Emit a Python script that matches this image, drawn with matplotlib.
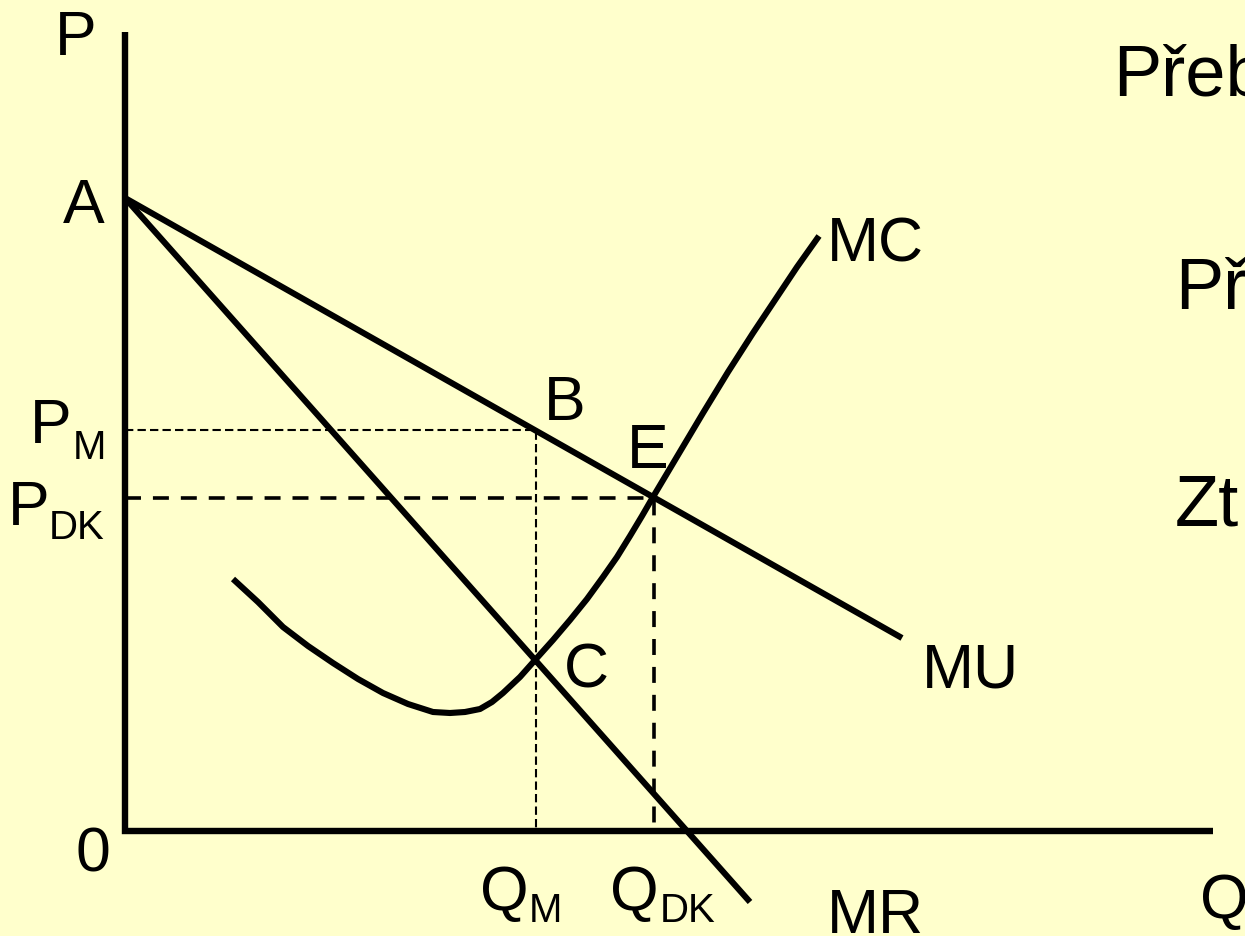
import matplotlib
matplotlib.use("Agg")
import matplotlib.pyplot as plt

# ---- data (economic coordinates: quantity Q, price P) ----
mu_q = [0, 777]
mu_p = [633, 193]
mr_q = [0, 625]
mr_p = [633, -71]
mc_q = [108, 133, 158, 183, 208, 233, 258, 283, 308, 325, 340, 355, 367, 378,
        395, 411, 428, 445, 462, 478, 492, 505, 517, 528, 553, 578, 603, 628,
        650, 672, 694]
mc_p = [252, 229, 204, 185, 168, 152, 138, 127, 119, 118, 119, 122, 129, 138,
        154, 172, 191, 211, 232, 254, 274, 295, 315, 334, 376, 418, 459, 498,
        531, 564, 595]
Q_M, P_M = 411, 401
Q_DK, P_DK = 529, 333
q_axis_max = 1088
p_axis_max = 799

plt.rcParams['lines.scale_dashes'] = False
FONT = ['Liberation Sans', 'DejaVu Sans']
BG = '#FFFFCC'

fig = plt.figure(figsize=(12.45, 9.36), dpi=100, facecolor=BG)
ax = fig.add_axes([0, 0, 1, 1])
ax.set_facecolor(BG)
ax.set_xlim(-125, 1120)
ax.set_ylim(-105, 831)
ax.axis('off')

# axes
ax.plot([0, 0, q_axis_max], [p_axis_max, 0, 0], color='black', lw=4.6,
        solid_joinstyle='miter', solid_capstyle='butt')

# guide lines
ax.plot([0, Q_M, Q_M], [P_M, P_M, 0], color='black', lw=1.5,
        dashes=(6.0, 3.0))
ax.plot([0, Q_DK, Q_DK], [P_DK, P_DK, 0], color='black', lw=2.6,
        dashes=(11.5, 8.6))

# curves
ax.plot(mu_q, mu_p, color='black', lw=4.4, solid_capstyle='butt')
ax.plot(mr_q, mr_p, color='black', lw=4.4, solid_capstyle='butt')
ax.plot(mc_q, mc_p, color='black', lw=4.4, solid_capstyle='butt',
        solid_joinstyle='round')

# labels (text, x, y, size)
labels = [
    ("P", -70, 776, 45), ("A", -62, 608, 45),
    ("P", -95, 388, 45), ("M", -52, 372, 29),
    ("P", -117, 306, 45), ("DK", -76, 292, 29),
    ("0", -50, -40, 45),
    ("Q", 355, -79, 45), ("M", 404, -91, 29),
    ("Q", 485, -79, 45), ("DK", 535, -91, 29),
    ("MR", 702, -102, 45), ("Q", 1075, -87, 45),
    ("MU", 797, 143, 45), ("MC", 702, 569, 45),
    ("B", 419, 411, 45), ("E", 502, 363, 45), ("C", 439, 144, 45),
    ("Přeb", 988, 736, 52), ("Př", 1050, 522, 52), ("Zt", 1050, 306, 52),
]
for t, x, y, s in labels:
    ax.text(x, y, t, fontsize=s, family=FONT, ha='left', va='baseline',
            color='black')

fig.savefig("out.png", dpi=100, facecolor=BG)
